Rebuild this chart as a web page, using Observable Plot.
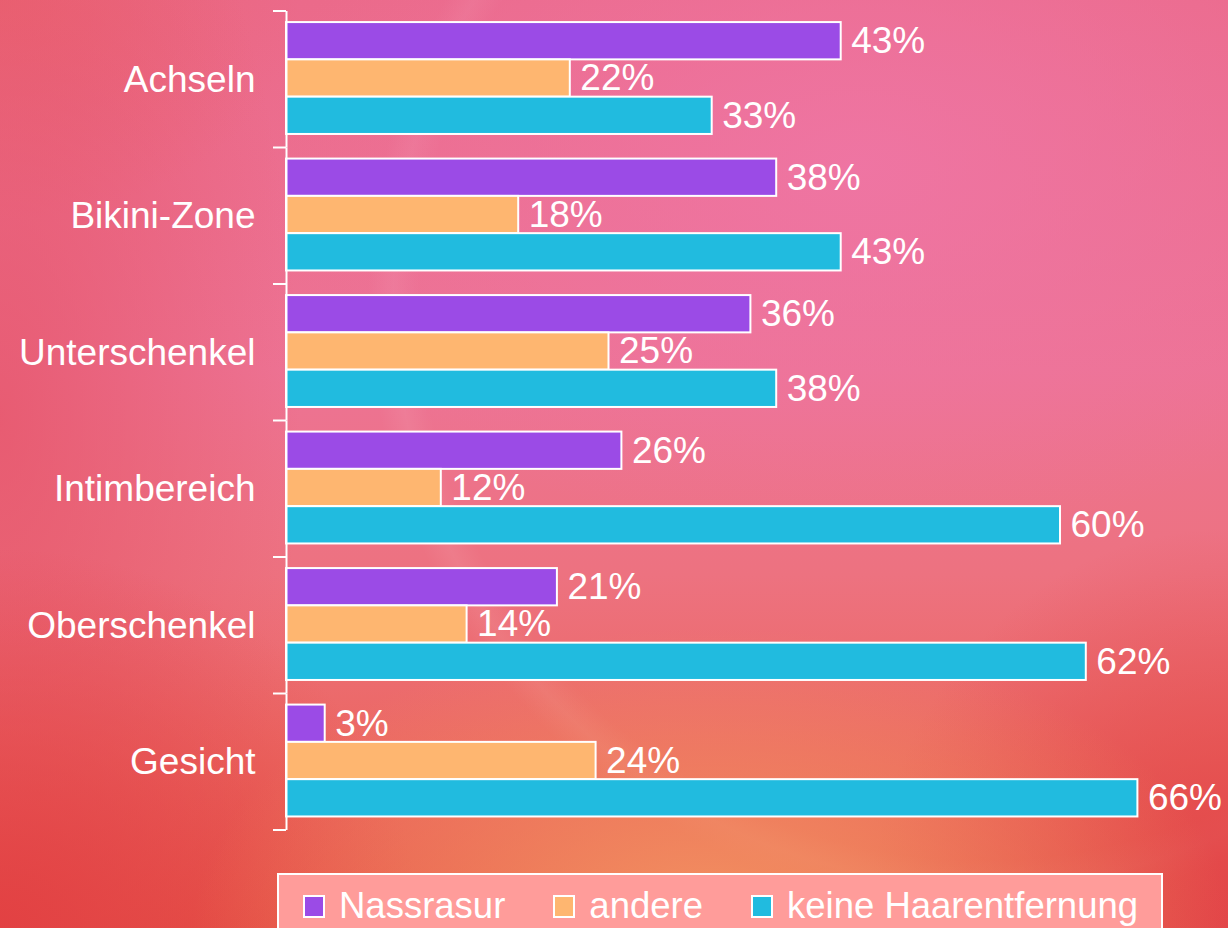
<!DOCTYPE html>
<html>
<head>
<meta charset="utf-8">
<script src="https://cdn.jsdelivr.net/npm/d3@7"></script>
<script src="https://cdn.jsdelivr.net/npm/@observablehq/plot@0.6"></script>
<style>
  html, body { margin: 0; padding: 0; }
  body {
    width: 1228px; height: 928px; overflow: hidden;
    font-family: "Liberation Sans", Arial, sans-serif;
    background:
      radial-gradient(ellipse 520px 300px at 58% 100%, rgba(243,148,98,1), rgba(243,148,98,0) 100%),
      radial-gradient(ellipse 420px 380px at 0% 100%, rgba(226,64,66,0.95), rgba(226,64,66,0) 100%),
      radial-gradient(ellipse 360px 400px at 100% 100%, rgba(226,68,72,0.95), rgba(226,68,72,0) 100%),
      radial-gradient(ellipse 300px 700px at 0% 45%, rgba(230,84,104,0.75), rgba(230,84,104,0) 100%),
      radial-gradient(ellipse 300px 220px at 0% 0%, rgba(234,98,110,0.8), rgba(234,98,110,0) 100%),
      radial-gradient(ellipse 600px 380px at 70% 18%, rgba(239,118,166,0.85), rgba(239,118,166,0) 100%),
      radial-gradient(circle 640px at 80% 32%, rgba(255,255,255,0) 88%, rgba(255,255,255,0.07) 92%, rgba(255,255,255,0) 96%),
      linear-gradient(to bottom, #eb6a8a 0%, #ed7394 40%, #ed7280 62%, #eb6660 82%, #e65448 100%);
  }
  #chart svg { display: block; }
  .legend {
    margin-left: 277px; margin-top: 8px;
    width: 886px; height: 70px;
    box-sizing: border-box;
    border: 2px solid #ffffff;
    background: #ff9c9a;
    display: flex; align-items: flex-start;
    padding-left: 24px; padding-top: 16px;
    white-space: nowrap;
  }
  .item { display: flex; align-items: center; margin-right: 48px; color: #fff; font-size: 36.5px; line-height: 30px; white-space: nowrap; flex: none; }
  .sw { width: 18px; height: 19px; border: 2px solid #fff; margin-right: 14px; flex: none; }
</style>
</head>
<body>
<div id="chart"></div>
<div class="legend" id="legend"></div>
<script>
const categories = ["Achseln", "Bikini-Zone", "Unterschenkel", "Intimbereich", "Oberschenkel", "Gesicht"];
const seriesNames = ["Nassrasur", "andere", "keine Haarentfernung"];
const nassrasur = [43, 38, 36, 26, 21, 3];
const andere = [22, 18, 25, 12, 14, 24];
const keine = [33, 43, 38, 60, 62, 66];
const colors = ["#9b4be6", "#feb670", "#21bbdf"];

const seriesValues = [nassrasur, andere, keine];
const data = [];
categories.forEach((c, i) => {
  seriesNames.forEach((s, j) => {
    data.push({category: c, series: s, value: seriesValues[j][i]});
  });
});

const plot = Plot.plot({
  width: 1228,
  height: 865,
  marginTop: 11,
  marginBottom: 35,
  marginLeft: 286,
  marginRight: 39,
  style: {color: "white", fontFamily: "'Liberation Sans', Arial, sans-serif", background: "transparent", overflow: "visible"},
  x: {domain: [0, 70], axis: null},
  y: {domain: seriesNames, paddingInner: 0, paddingOuter: 0.33, align: 0.45, round: false, axis: null},
  fy: {domain: categories, padding: 0, round: false, label: null},
  color: {domain: seriesNames, range: colors},
  marks: [
    Plot.axisFy({anchor: "left", tickSize: 0, tickPadding: 31, fontSize: 37, label: null, fill: "white"}),
    Plot.barX(data, {fy: "category", y: "series", x: "value", fill: "series", stroke: "white", strokeWidth: 2}),
    Plot.text(data, {fy: "category", y: "series", x: "value", text: d => d.value + "%", textAnchor: "start", dx: 10, fontSize: 37, fill: "white"}),
    Plot.ruleX([0], {stroke: "white", strokeWidth: 2})
  ]
});
document.getElementById("chart").appendChild(plot);

// boundary ticks on the category axis, positioned from the plot's own scales
const fy = plot.scale("fy");
const xs = plot.scale("x");
const x0 = xs.apply(0);
const bounds = categories.map(c => fy.apply(c)).concat([fy.apply(categories[categories.length - 1]) + fy.bandwidth]);
const g = d3.select(plot).append("g");
g.selectAll("line").data(bounds).join("line")
  .attr("x1", x0 - 13).attr("x2", x0)
  .attr("y1", d => d).attr("y2", d => d)
  .attr("stroke", "white").attr("stroke-width", 2);

// legend
const legend = d3.select("#legend");
seriesNames.forEach((s, i) => {
  const it = legend.append("div").attr("class", "item");
  it.append("div").attr("class", "sw").style("background", colors[i]);
  it.append("span").text(s);
});
</script>
</body>
</html>
